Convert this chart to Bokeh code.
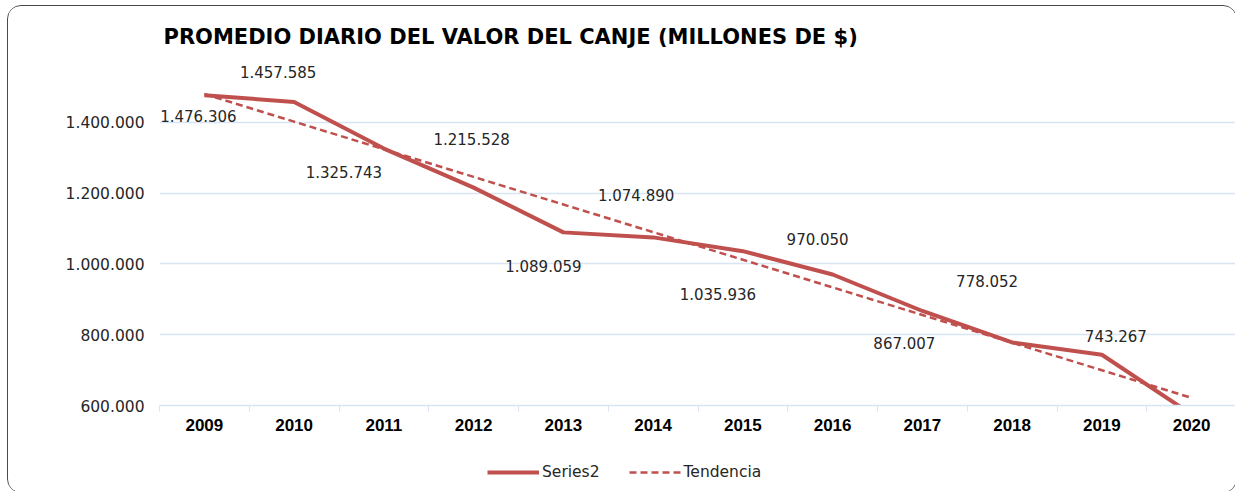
import numpy as np
from bokeh.plotting import figure
from bokeh.layouts import column
from bokeh.models import (ColumnDataSource, FixedTicker, Legend, LegendItem,
                          CustomJSTickFormatter)
from bokeh.core.properties import value
from bokeh.embed import file_html
from bokeh.resources import INLINE

# ---- data ----
years = [2009, 2010, 2011, 2012, 2013, 2014, 2015, 2016, 2017, 2018, 2019, 2020]
series2 = [1476306, 1457585, 1325743, 1215528, 1089059, 1074890, 1035936,
           970050, 867007, 778052, 743267, 575000]
y_ticks = [600000, 800000, 1000000, 1200000, 1400000]
title_text = "PROMEDIO DIARIO DEL VALOR DEL CANJE (MILLONES DE $)"
series_names = ["Series2", "Tendencia"]

def fmt(v):
    return f"{int(round(v)):,}".replace(",", ".")

# linear trend (Excel-style least squares)
xi = np.arange(len(years))
slope, intercept = np.polyfit(xi, np.array(series2, dtype=float), 1)
trend = list(intercept + slope * xi)

# label placement (pixel offsets, style only)
lab_dx = [-6, -16, -40, -2, -20, -17, -25, -15, -18, -25, 14]
lab_dy = [21, -30, 23, -49, 34, -42, 43, -36, 32, -61, -19]

RED = "#c0504d"
GRID = "#dae5f4"
TXT = "#262626"
W = 1228

p = figure(width=W, height=440, output_backend="svg", toolbar_location=None,
           x_range=(-0.5, len(years) - 0.5), y_range=(600000, 1600000),
           min_border_left=151, min_border_right=0, min_border_top=45,
           min_border_bottom=41)
p.outline_line_color = None
p.background_fill_color = "white"
p.border_fill_color = "white"

# title
p.title.text = title_text
p.title.text_font = "DejaVu Sans"
p.title.text_font_size = "21px"
p.title.text_font_style = "bold"
p.title.text_color = "#000000"
p.title.align = "left"
p.title.offset = 4
p.title.standoff = 5

# axes
xa = p.xaxis[0]
xa.ticker = FixedTicker(ticks=list(xi), minor_ticks=[i - 0.5 for i in range(len(years))])
xa.major_label_overrides = {int(i): str(y) for i, y in zip(xi, years)}
xa.major_tick_line_color = None
xa.minor_tick_line_color = GRID
xa.minor_tick_out = 6
xa.minor_tick_in = 0
xa.axis_line_color = GRID
xa.axis_line_width = 1.5
xa.major_label_text_font = "Liberation Sans"
xa.major_label_text_font_style = "bold"
xa.major_label_text_font_size = "17px"
xa.major_label_text_color = "#000000"
xa.major_label_standoff = 7

ya = p.yaxis[0]
ya.ticker = FixedTicker(ticks=y_ticks)
ya.formatter = CustomJSTickFormatter(code="return Math.round(tick).toString().replace(/\\B(?=(\\d{3})+(?!\\d))/g, '.');")
ya.axis_line_color = None
ya.major_tick_line_color = None
ya.minor_tick_line_color = None
ya.major_label_text_font = "DejaVu Sans"
ya.major_label_text_font_size = "15.5px"
ya.major_label_text_color = TXT
ya.major_label_standoff = 9

p.xgrid.grid_line_color = None
p.ygrid.grid_line_color = GRID
p.ygrid.grid_line_width = 1.5
p.ygrid.ticker = FixedTicker(ticks=y_ticks)

src = ColumnDataSource(dict(x=xi, y=series2, t=trend))
p.line("x", "y", source=src, line_color=RED, line_width=4, line_join="round")
p.line("x", "t", source=src, line_color=RED, line_width=2.5, line_dash="7 4")

n = len(lab_dx)
lab_src = ColumnDataSource(dict(x=xi[:n], y=series2[:n],
                                txt=[fmt(v) for v in series2[:n]],
                                dx=lab_dx, dy=lab_dy))
p.text("x", "y", text="txt", source=lab_src, x_offset="dx", y_offset="dy",
       text_align="center", text_baseline="middle",
       text_font=value("DejaVu Sans"), text_font_size="15px", text_color=TXT)

# ---- legend strip (separate figure so legend is not clipped) ----
lg = figure(width=W, height=46, output_backend="svg", toolbar_location=None,
            x_range=(0, 1), y_range=(0, 1), min_border=0,
            x_axis_location=None, y_axis_location=None)
lg.outline_line_color = None
lg.grid.visible = False
lg.background_fill_color = "white"
lg.border_fill_color = "white"
# same series drawn out of this strip's view; only their legend glyphs show
l1 = lg.line("x", "y", source=src, line_color=RED, line_width=4)
l2 = lg.line("x", "t", source=src, line_color=RED, line_width=2.5, line_dash="7 4")
legend = Legend(items=[LegendItem(label=series_names[0], renderers=[l1]),
                       LegendItem(label=series_names[1], renderers=[l2])],
                location=(328, 11), orientation="horizontal",
                border_line_color=None, background_fill_alpha=0,
                glyph_width=52, glyph_height=16, label_height=16,
                label_standoff=3, spacing=29, padding=2, margin=0,
                label_text_font="DejaVu Sans", label_text_font_size="15.5px",
                label_text_color=TXT)
lg.add_layout(legend, "center")

layout = column(p, lg, spacing=0,
                styles={"border": "1.5px solid #4a4a4a", "border-radius": "14px",
                        "overflow": "hidden", "position": "relative",
                        "left": "7px", "top": "5px", "background-color": "white"})

open("out.html", "w").write(file_html(layout, INLINE))
